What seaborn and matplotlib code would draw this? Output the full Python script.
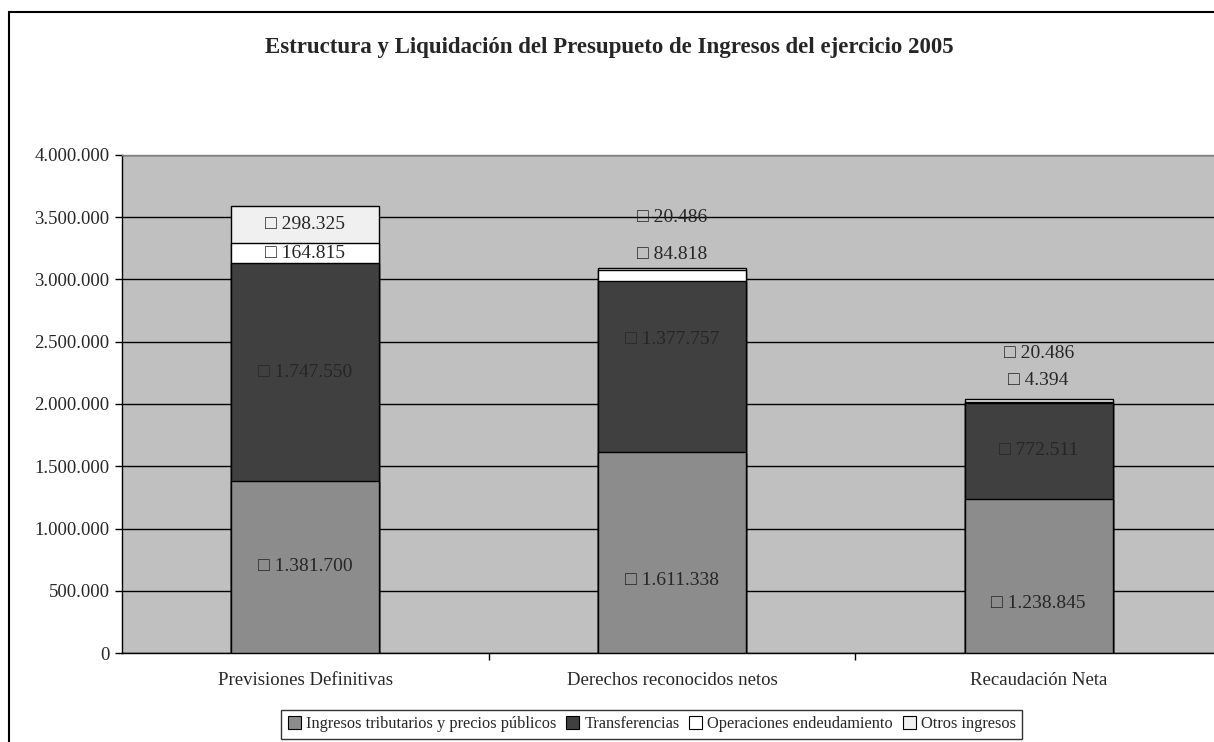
import matplotlib
matplotlib.use("Agg")
import matplotlib.pyplot as plt
import matplotlib.patches as mpatches
from matplotlib.ticker import FuncFormatter, FixedLocator
import seaborn as sns
import pandas as pd
import numpy as np

categories = ["Previsiones Definitivas", "Derechos reconocidos netos", "Recaudación Neta"]
series_names = ["Ingresos tributarios y precios públicos", "Transferencias",
                "Operaciones endeudamiento", "Otros ingresos"]
ingresos = [1381700, 1611338, 1238845]
transferencias = [1747550, 1377757, 772511]
operaciones = [164815, 84818, 4394]
otros = [298325, 20486, 20486]
colors = ["#8C8C8C", "#404040", "#FFFFFF", "#F0F0F0"]

# label anchor values (where the value labels sit)
label_y = {
    "ingresos": [690850, 586000, 394000],
    "transferencias": [2255000, 2522000, 1630000],
    "operaciones": [3210000, 3197000, 2185000],
    "otros": [3440000, 3494000, 2402000],
}

sns.set_style("white")
plt.rcParams["font.family"] = ["Liberation Serif", "DejaVu Sans"]

fig = plt.figure(figsize=(12.14, 7.42), dpi=100)
ax = fig.add_axes([122/1214, 1-653/742, (1222-122)/1214, (653-155)/742])
ax.set_facecolor("#C0C0C0")

df = pd.DataFrame({
    "cat": categories,
    "s1": np.array(ingresos),
    "s2": np.array(ingresos) + np.array(transferencias),
    "s3": np.array(ingresos) + np.array(transferencias) + np.array(operaciones),
    "s4": np.array(ingresos) + np.array(transferencias) + np.array(operaciones) + np.array(otros),
})

for col, c in zip(["s4", "s3", "s2", "s1"], colors[::-1]):
    sns.barplot(data=df, x="cat", y=col, color=c, saturation=1, width=0.404,
                edgecolor="black", linewidth=1.0, ax=ax, zorder=3, errorbar=None)

ax.set_xlim(-0.5, 2.5)
ax.set_ylim(0, 4000000)
ax.set_yticks(np.arange(0, 4000001, 500000))
ax.yaxis.set_major_formatter(FuncFormatter(lambda v, p: f"{int(v):,}".replace(",", ".")))
ax.grid(axis="y", color="black", linewidth=1.0, zorder=1)
ax.set_axisbelow(True)
ax.set_xlabel("")
ax.set_ylabel("")

ax.xaxis.set_minor_locator(FixedLocator([0.5, 1.5]))
ax.tick_params(axis="x", which="major", length=0, labelsize=13.5, pad=14)
ax.tick_params(axis="x", which="minor", length=5, width=1, color="black", direction="out")
ax.tick_params(axis="y", length=5, width=1, color="black", direction="out", labelsize=13.5, pad=4)
ax.tick_params(bottom=True, left=True, which="both")

for s in ["left", "bottom"]:
    ax.spines[s].set_color("black")
    ax.spines[s].set_linewidth(1.0)
ax.spines["top"].set_color("#808080")
ax.spines["top"].set_linewidth(1.0)
ax.spines["right"].set_visible(False)

values = {"ingresos": ingresos, "transferencias": transferencias,
          "operaciones": operaciones, "otros": otros}
for key in ["ingresos", "transferencias", "operaciones", "otros"]:
    for i, v in enumerate(values[key]):
        ax.text(i, label_y[key][i], "□ " + f"{v:,}".replace(",", "."),
                ha="center", va="center", fontsize=14, zorder=5,
                family=["Liberation Serif", "DejaVu Sans"])

fig.text(0.502, 1-47/742, "Estructura y Liquidación del Presupueto de Ingresos del ejercicio 2005",
         ha="center", va="center", fontsize=16.5, fontweight="bold")

handles = [mpatches.Patch(facecolor=c, edgecolor="black", linewidth=0.8) for c in colors]
leg = fig.legend(handles, series_names, loc="lower center", bbox_to_anchor=(0.537, 0.0),
                 ncol=4, fontsize=11.8, frameon=True, fancybox=False, edgecolor="black",
                 handlelength=0.8, handleheight=0.8, handletextpad=0.3, columnspacing=0.6,
                 borderpad=0.4, borderaxespad=0.2)
leg.get_frame().set_linewidth(1.0)

frame = mpatches.Rectangle((9/1214, -0.5), 2, 1.5 - 12/742, transform=fig.transFigure,
                           fill=False, edgecolor="black", linewidth=1.5)
fig.patches.append(frame)

fig.savefig("out.png", dpi=100)
